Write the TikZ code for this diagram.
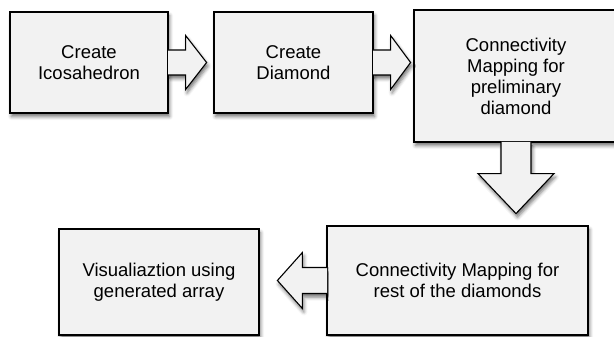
\documentclass[tikz,border=0pt]{standalone}
\usepackage{fontspec}
\setmainfont{Liberation Sans}
\usetikzlibrary{shadows.blur}
\definecolor{boxfill}{HTML}{F2F2F2}

\begin{document}
\begin{tikzpicture}[x=1pt,y=-1pt,
    softshadow/.style={blur shadow={shadow xshift=1.5pt,shadow yshift=-3.5pt,
      shadow blur radius=3.5pt,shadow opacity=55}},
    stage/.style={rectangle,draw=black,line width=1.2pt,fill=boxfill,
      align=center,inner sep=0pt,font=\fontsize{18.5}{21}\selectfont,softshadow},
    flow/.style={draw=black,line width=1.1pt,fill=boxfill,line join=miter,softshadow}]
    \useasboundingbox (0,0) rectangle (614,337);

    \node[stage,minimum width=158,minimum height=101] (ico) at (89,62.5)
      {Create\\Icosahedron};
    \node[stage,minimum width=159,minimum height=101] (dia) at (293.5,62.5)
      {Create\\Diamond};
    \node[stage,minimum width=204,minimum height=132] (prelim) at (516,76)
      {Connectivity\\Mapping for\\preliminary\\diamond};
    \node[stage,minimum width=261,minimum height=109] (rest) at (457.5,280.5)
      {Connectivity Mapping for\\rest of the diamonds};
    \node[stage,minimum width=200,minimum height=106] (vis) at (159,282)
      {Visualiaztion using\\generated array};

    % block arrows, drawn open so the box border under the shaft is hidden
    \filldraw[flow] (ico.east) ++(-0.6,-12.5) -- ++(17.6,0) -- ++(0,-14.5)
      -- ++(21,27) -- ++(-21,27) -- ++(0,-14.5) -- ++(-17.6,0);
    \filldraw[flow] (dia.east) ++(-0.6,-12.5) -- ++(17.6,0) -- ++(0,-14.5)
      -- ++(20,27) -- ++(-20,27) -- ++(0,-14.5) -- ++(-17.6,0);
    \filldraw[flow] (prelim.south) ++(-15,-0.6) -- ++(0,31.6) -- ++(-23,0)
      -- ++(38,40) -- ++(38,-40) -- ++(-23,0) -- ++(0,-31.6);
    \filldraw[flow] (rest.west) ++(0.6,-13) -- ++(-24.6,0) -- ++(0,-15)
      -- ++(-25,28) -- ++(25,28) -- ++(0,-15) -- ++(24.6,0);
  \end{tikzpicture}
\end{document}
